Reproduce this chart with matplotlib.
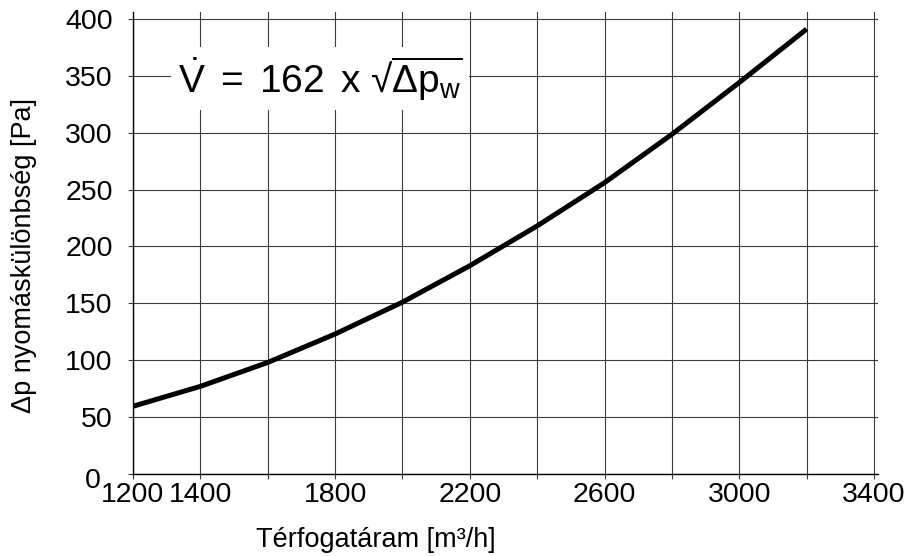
import matplotlib
matplotlib.use("Agg")
from matplotlib import pyplot as plt
from matplotlib import transforms

# values
flow = [1200, 1400, 1600, 1800, 2000, 2200, 2400, 2600, 2800, 3000, 3200]
dp = [59.5, 77, 98, 123, 151, 183, 218, 256, 298.5, 344, 391]

x_ticks = [1200, 1400, 1600, 1800, 2000, 2200, 2400, 2600, 2800, 3000, 3200, 3400]
x_tick_labels = ['1200', '1400', '', '1800', '', '2200', '', '2600', '', '3000', '', '3400']
y_ticks = [0, 50, 100, 150, 200, 250, 300, 350, 400]

plt.rcParams['font.family'] = ['Liberation Sans', 'DejaVu Sans']
plt.rcParams['mathtext.fontset'] = 'custom'
plt.rcParams['mathtext.rm'] = 'Liberation Sans'
plt.rcParams['mathtext.it'] = 'Liberation Sans'
plt.rcParams['mathtext.bf'] = 'Liberation Sans:bold'

fig = plt.figure(figsize=(9.14, 5.56), dpi=100)
ax = fig.add_axes([0.1455, 0.1475, 0.8151, 0.8309])

ax.plot(flow, dp, color='black', lw=3.6, solid_capstyle='butt', zorder=3)

ax.set_xlim(1200, 3412)
ax.set_ylim(0, 406)
ax.set_xticks(x_ticks)
ax.set_xticklabels(x_tick_labels)
ax.set_yticks(y_ticks)
ax.grid(True, color='#3a3a3a', lw=0.8)
ax.set_axisbelow(True)

for s in ['top', 'right']:
    ax.spines[s].set_visible(False)
for s in ['left', 'bottom']:
    ax.spines[s].set_color('black')
    ax.spines[s].set_linewidth(1.0)

ax.tick_params(axis='both', labelsize=20.5, color='#3a3a3a', length=3.5, width=0.8)
ax.tick_params(axis='y', pad=11)
ax.tick_params(axis='x', pad=2)

# the "0" sits a bit lower and further left, out of the way of "1200"
fig.canvas.draw()
zero = ax.get_yticklabels()[0]
zero.set_transform(zero.get_transform() + transforms.ScaledTranslation(-0.12, -0.04, fig.dpi_scale_trans))

ax.set_xlabel('Térfogatáram [m³/h]', fontsize=19.5)
ax.set_ylabel('Δp nyomáskülönbség [Pa]', fontsize=19.5)
ax.xaxis.set_label_coords(0.3255, -0.114)
ax.yaxis.set_label_coords(-0.129, 0.474)

formula = r'$\dot{V}\,$ =$\,$ 162$\,$ x √$\overline{\Delta \mathrm{p}_{\mathrm{w}}}$'
ax.text(1334, 335, formula, fontsize=28, ha='left', va='baseline', zorder=4,
        bbox=dict(facecolor='white', edgecolor='none', pad=5))

fig.savefig('out.png', dpi=100)
